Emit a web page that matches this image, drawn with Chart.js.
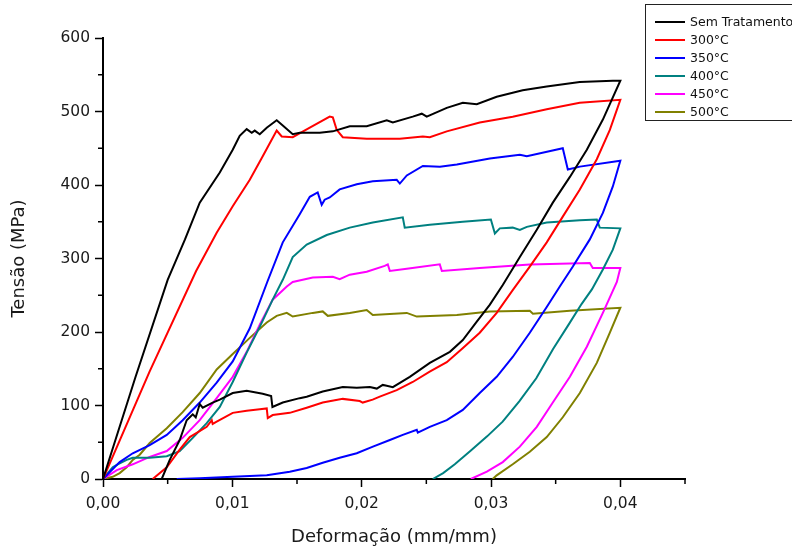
<!DOCTYPE html>
<html>
<head>
<meta charset="utf-8">
<script src="https://cdn.jsdelivr.net/npm/chart.js@4.4.1/dist/chart.umd.min.js"></script>
<style>
  body { margin: 0; background: #fff; }
</style>
</head>
<body>
<canvas id="myChart" width="792" height="548"></canvas>
<script>
// Series names
const seriesNames = ['Sem Tratamento', '300°C', '350°C', '400°C', '450°C', '500°C'];

// Strain (mm/mm) and stress (MPa): loading path to 0.04, then unloading
const semTratX = [0, 0.0025, 0.005, 0.00634, 0.00748, 0.00903, 0.01003, 0.01057, 0.01111, 0.0115, 0.01173, 0.01212, 0.01266, 0.01343, 0.0139, 0.01467, 0.01521, 0.01676, 0.01777, 0.01908, 0.02039, 0.02194, 0.02241, 0.02395, 0.02465, 0.02503, 0.02658, 0.02782, 0.0289, 0.03044, 0.03245, 0.03431, 0.03686, 0.03942, 0.04,
  0.03865, 0.03741, 0.0361, 0.03478, 0.03354, 0.03223, 0.03091, 0.0299, 0.0289, 0.02782, 0.02682, 0.02527, 0.02372, 0.02241, 0.02194, 0.02163, 0.02117, 0.02063, 0.01962, 0.01854, 0.01699, 0.01575, 0.01521, 0.0139, 0.0131, 0.013, 0.01235, 0.01111, 0.01003, 0.00903, 0.00848, 0.00771, 0.00748, 0.00717, 0.00694, 0.00671, 0.00647, 0.00593, 0.00516, 0.00454];
const semTratY = [0, 138, 271, 326, 376, 417, 448, 467, 476, 471, 474, 469, 478, 488, 481, 469, 471, 471, 473, 480, 480, 488, 485, 493, 497, 493, 505, 512, 510, 520, 529, 534, 540, 542, 542,
  489, 448, 411, 376, 339, 302, 264, 237, 214, 189, 173, 158, 139, 125, 127, 128, 123, 125, 124, 125, 119, 112, 110, 104, 98, 113, 116, 120, 117, 108, 104, 97, 102, 84, 88, 84, 80, 53, 26, 0];

const t300X = [0, 0.0036, 0.0072, 0.00879, 0.01003, 0.01135, 0.01235, 0.01343, 0.01382, 0.01467, 0.01599, 0.01753, 0.01777, 0.01807, 0.01854, 0.02039, 0.02295, 0.02473, 0.02527, 0.02658, 0.02913, 0.03168, 0.03431, 0.03686, 0.04,
  0.03919, 0.03818, 0.03687, 0.03555, 0.03431, 0.033, 0.03168, 0.03044, 0.02913, 0.02781, 0.02658, 0.02526, 0.02395, 0.02271, 0.0214, 0.02085, 0.02008, 0.01985, 0.01854, 0.01699, 0.01575, 0.01444, 0.01312, 0.01274, 0.01266, 0.01212, 0.01111, 0.01003, 0.00879, 0.00848, 0.00841, 0.00802, 0.00671, 0.00593, 0.00493, 0.00384];
const t300Y = [0, 146, 283, 335, 371, 407, 439, 474, 466, 465, 478, 493, 492, 475, 465, 463, 463, 466, 465, 473, 485, 493, 503, 512, 516,
  475, 435, 394, 357, 322, 289, 257, 226, 199, 178, 159, 146, 132, 121, 112, 108, 104, 106, 109, 104, 97, 90, 87, 83, 96, 95, 93, 90, 78, 75, 80, 71, 57, 40, 16, 0];

const t350X = [0, 0.00129, 0.0023, 0.00361, 0.00493, 0.00616, 0.00748, 0.00879, 0.01003, 0.01135, 0.0127, 0.0139, 0.0152, 0.01599, 0.0166, 0.01691, 0.01714, 0.01753, 0.0183, 0.01962, 0.02086, 0.02271, 0.02295, 0.02349, 0.02473, 0.02605, 0.02736, 0.02991, 0.03223, 0.03277, 0.03555, 0.03594, 0.03687, 0.04,
  0.03942, 0.03865, 0.03764, 0.03633, 0.03532, 0.03431, 0.033, 0.03168, 0.03044, 0.02913, 0.02782, 0.02658, 0.02527, 0.02434, 0.02426, 0.02318, 0.02218, 0.02087, 0.01962, 0.0183, 0.01699, 0.01575, 0.01444, 0.01266, 0.01003, 0.00748, 0.0057];
const t350Y = [0, 23, 35, 46, 60, 80, 104, 131, 160, 205, 268, 322, 360, 384, 390, 373, 380, 383, 394, 401, 405, 407, 402, 413, 426, 425, 428, 436, 441, 439, 450, 421, 425, 433,
  398, 362, 326, 289, 262, 234, 199, 166, 139, 117, 94, 80, 71, 63, 67, 60, 53, 44, 35, 29, 22, 15, 10, 5, 3, 1, 0];

const t400X = [0, 0.00075, 0.00114, 0.00183, 0.0023, 0.00361, 0.00493, 0.00593, 0.00694, 0.00802, 0.00903, 0.01003, 0.01111, 0.01212, 0.01312, 0.0139, 0.01467, 0.01575, 0.0173, 0.01908, 0.02086, 0.02318, 0.02333, 0.02527, 0.02782, 0.02999, 0.0303, 0.03068, 0.03168, 0.03223, 0.03277, 0.03431, 0.03687, 0.03818, 0.03841, 0.04,
  0.03942, 0.03865, 0.0378, 0.037, 0.036, 0.0348, 0.0335, 0.0322, 0.0309, 0.0297, 0.0284, 0.0272, 0.0263, 0.0255];
const t400Y = [0, 16, 20, 26, 29, 29, 31, 38, 56, 76, 98, 132, 172, 207, 244, 271, 302, 319, 332, 342, 349, 356, 342, 346, 350, 353, 334, 341, 342, 339, 343, 349, 352, 353, 342, 341,
  312, 285, 258, 238, 210, 177, 137, 106, 78, 58, 38, 20, 8, 0];

const t450X = [0, 0.00107, 0.0023, 0.00361, 0.00493, 0.00616, 0.00748, 0.00879, 0.01003, 0.01111, 0.01212, 0.01312, 0.01421, 0.01467, 0.01622, 0.01777, 0.0183, 0.01908, 0.02039, 0.02178, 0.02202, 0.02218, 0.02349, 0.02604, 0.0262, 0.02913, 0.033, 0.03764, 0.03787, 0.04,
  0.03973, 0.03865, 0.03741, 0.0361, 0.03478, 0.03354, 0.03223, 0.03091, 0.02968, 0.02844];
const t450Y = [0, 12, 20, 30, 38, 56, 80, 110, 139, 173, 210, 244, 262, 268, 274, 275, 272, 278, 282, 290, 292, 283, 286, 292, 283, 287, 292, 294, 287, 287,
  268, 226, 180, 139, 104, 71, 44, 23, 10, 0];

const t500X = [0, 0.00075, 0.00129, 0.00183, 0.0023, 0.00284, 0.00361, 0.00493, 0.00616, 0.00748, 0.00879, 0.01003, 0.01135, 0.01266, 0.01343, 0.01421, 0.01467, 0.01622, 0.01699, 0.01738, 0.01908, 0.02039, 0.02086, 0.02349, 0.02426, 0.02736, 0.02991, 0.033, 0.03324, 0.0361, 0.04,
  0.03919, 0.03818, 0.03687, 0.03555, 0.03431, 0.033, 0.03168, 0.03044, 0.03013];
const t500Y = [0, 3, 8, 16, 26, 33, 49, 69, 91, 117, 149, 170, 192, 213, 222, 226, 221, 226, 228, 222, 226, 230, 223, 226, 221, 223, 228, 229, 225, 229, 233,
  199, 158, 117, 84, 57, 37, 20, 5, 0];

// Axis ticks
const xTicks = [0, 0.01, 0.02, 0.03, 0.04];
const xMinorTicks = [0.005, 0.015, 0.025, 0.035, 0.045];
const yMinorTicks = [50, 150, 250, 350, 450, 550];

const colors = ['#000000', '#ff0000', '#0000ff', '#008080', '#ff00ff', '#808000'];
const seriesX = [semTratX, t300X, t350X, t400X, t450X, t500X];
const seriesY = [semTratY, t300Y, t350Y, t400Y, t450Y, t500Y];

const FONT = 'DejaVu Sans';

const datasets = seriesNames.map((name, i) => ({
  label: name,
  data: seriesX[i].map((x, j) => ({ x: x, y: seriesY[i][j] })),
  borderColor: colors[i],
  backgroundColor: colors[i],
  borderWidth: 2,
  pointRadius: 0,
  tension: 0,
  fill: false
}));

// Minor tick marks and the boxed legend in the top right corner
const extrasPlugin = {
  id: 'extras',
  afterDraw(chart) {
    const { ctx, chartArea, scales } = chart;
    ctx.save();
    ctx.strokeStyle = '#000';
    ctx.lineWidth = 1.5;
    ctx.beginPath();
    xMinorTicks.forEach(v => {
      const px = scales.x.getPixelForValue(v);
      ctx.moveTo(px, chartArea.bottom);
      ctx.lineTo(px, chartArea.bottom + 5);
    });
    yMinorTicks.forEach(v => {
      const py = scales.y.getPixelForValue(v);
      ctx.moveTo(chartArea.left, py);
      ctx.lineTo(chartArea.left - 5, py);
    });
    ctx.stroke();

    // legend
    const bx = 645.5, by = 4.5, bh = 116;
    ctx.lineWidth = 1;
    ctx.strokeStyle = '#222';
    ctx.strokeRect(bx, by, 200, bh);
    ctx.font = '12.5px ' + FONT;
    ctx.textBaseline = 'middle';
    ctx.textAlign = 'left';
    chart.data.datasets.forEach((ds, i) => {
      const y = 22 + i * 18;
      ctx.strokeStyle = ds.borderColor;
      ctx.lineWidth = 2;
      ctx.beginPath();
      ctx.moveTo(655, y);
      ctx.lineTo(685, y);
      ctx.stroke();
      ctx.fillStyle = '#111';
      ctx.fillText(ds.label, 690, y + 1);
    });
    ctx.restore();
  }
};

const config = {
  type: 'line',
  data: { datasets: datasets },
  options: {
    responsive: false,
    animation: false,
    devicePixelRatio: 1,
    layout: { padding: { top: 38, right: 107, left: 0, bottom: 0 } },
    plugins: {
      legend: { display: false },
      tooltip: { enabled: false }
    },
    scales: {
      x: {
        type: 'linear',
        min: 0,
        max: 0.045,
        afterFit(scale) { scale.height = 69; },
        afterBuildTicks(scale) { scale.ticks = xTicks.map(v => ({ value: v })); },
        border: { display: true, color: '#000', width: 2 },
        grid: { drawOnChartArea: false, drawTicks: true, tickLength: 8, tickWidth: 1.5, tickColor: '#000' },
        ticks: {
          color: '#1a1a1a',
          font: { family: FONT, size: 15.5 },
          padding: 8,
          maxRotation: 0,
          callback: v => v.toFixed(2).replace('.', ',')
        },
        title: {
          display: true,
          text: 'Deformação (mm/mm)',
          color: '#1a1a1a',
          font: { family: FONT, size: 18 },
          padding: { top: 0, bottom: 0 }
        }
      },
      y: {
        type: 'linear',
        min: 0,
        max: 600,
        afterFit(scale) { scale.width = 103; },
        border: { display: true, color: '#000', width: 2 },
        grid: { drawOnChartArea: false, drawTicks: true, tickLength: 8, tickWidth: 1.5, tickColor: '#000' },
        ticks: {
          stepSize: 100,
          color: '#1a1a1a',
          font: { family: FONT, size: 15.5 },
          padding: 5
        },
        title: {
          display: true,
          text: 'Tensão (MPa)',
          color: '#1a1a1a',
          font: { family: FONT, size: 18 },
          padding: { top: 9, bottom: 0 }
        }
      }
    }
  },
  plugins: [extrasPlugin]
};

// Render the chart
new Chart(document.getElementById('myChart'), config);
</script>
</body>
</html>
